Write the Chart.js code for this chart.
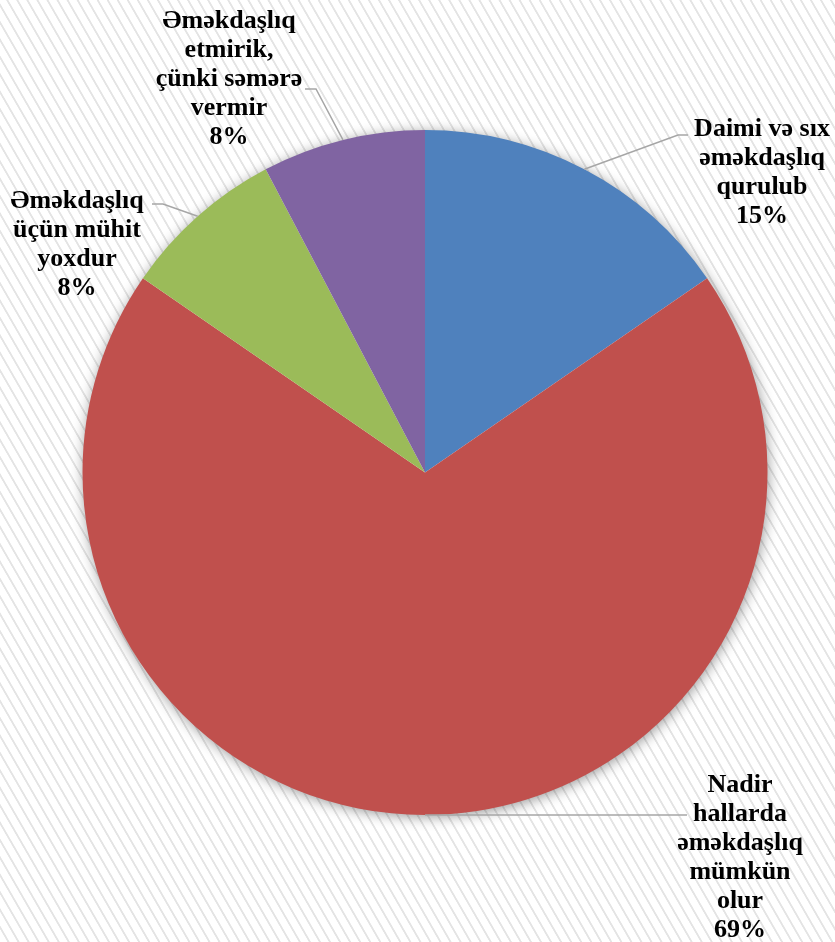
<!DOCTYPE html>
<html>
<head>
<meta charset="utf-8">
<script src="https://cdn.jsdelivr.net/npm/chart.js@4/dist/chart.umd.min.js"></script>
<style>
  html, body { margin: 0; padding: 0; }
  body {
    width: 835px; height: 942px; overflow: hidden;
    background: repeating-linear-gradient(60deg, #ffffff 0px, #ffffff 6.2px, #e4e4e4 6.8px, #e4e4e4 8.0px, #ffffff 8.7px);
    font-family: "Liberation Serif";
  }
  canvas { display: block; }
  .pre { position: absolute; left: -1000px; top: 0; font: bold 26px "Liberation Serif"; }
</style>
</head>
<body>
<span class="pre">Əməkdaşlıq çünki səmərə 8%</span>
<canvas id="c" width="835" height="942"></canvas>
<script>
// ---- data ----
const categories = [
  'Daimi və sıx əməkdaşlıq qurulub',
  'Nadir hallarda əməkdaşlıq mümkün olur',
  'Əməkdaşlıq üçün mühit yoxdur',
  'Əməkdaşlıq etmirik, çünki səmərə vermir'
];
const categoryLines = [
  ['Daimi və sıx', 'əməkdaşlıq', 'qurulub'],
  ['Nadir', 'hallarda', 'əməkdaşlıq', 'mümkün', 'olur'],
  ['Əməkdaşlıq', 'üçün mühit', 'yoxdur'],
  ['Əməkdaşlıq', 'etmirik,', 'çünki səmərə', 'vermir']
];
const values = [15.4, 69.2, 7.7, 7.7];
const percentLabels = ['15%', '69%', '8%', '8%'];
const colors = ['#4F81BD', '#C0504D', '#9BBB59', '#8064A2'];

// ---- label layout (positions / styles) ----
const labelLayout = [
  { x: 762, y: 136, elbow: [678, 135], end: [688, 135] },
  { x: 740, y: 792, elbow: null,       end: [687, 814] },
  { x: 77,  y: 208, elbow: [163, 204], end: [152, 204] },
  { x: 229, y: 28,  elbow: [316, 89],  end: [305, 89] }
];
const LINE_H = 29;
const FONT = 'bold 26px "Liberation Serif"';

const shadowPlugin = {
  id: 'pieShadow',
  beforeDatasetsDraw(chart) {
    const arc = chart.getDatasetMeta(0).data[0];
    if (!arc) return;
    const ctx = chart.ctx;
    ctx.save();
    ctx.shadowColor = 'rgba(0,0,0,0.45)';
    ctx.shadowBlur = 14;
    ctx.shadowOffsetX = 1;
    ctx.shadowOffsetY = 2;
    ctx.beginPath();
    ctx.arc(arc.x, arc.y, arc.outerRadius - 1, 0, Math.PI * 2);
    ctx.fillStyle = '#ffffff';
    ctx.fill();
    ctx.restore();
  }
};

const labelPlugin = {
  id: 'outerLabels',
  afterDatasetsDraw(chart) {
    const ctx = chart.ctx;
    const meta = chart.getDatasetMeta(0);
    meta.data.forEach((arc, i) => {
      const L = labelLayout[i];
      const mid = (arc.startAngle + arc.endAngle) / 2;
      const sx = arc.x + Math.cos(mid) * arc.outerRadius;
      const sy = arc.y + Math.sin(mid) * arc.outerRadius;
      ctx.save();
      ctx.strokeStyle = '#A6A6A6';
      ctx.lineWidth = 1.5;
      ctx.beginPath();
      ctx.moveTo(sx, sy);
      if (L.elbow) ctx.lineTo(L.elbow[0], L.elbow[1]);
      else ctx.lineTo(L.end[0], sy);
      ctx.lineTo(L.end[0], L.elbow ? L.end[1] : sy);
      ctx.stroke();
      ctx.restore();

      ctx.save();
      ctx.font = FONT;
      ctx.fillStyle = '#000000';
      ctx.textAlign = 'center';
      ctx.textBaseline = 'alphabetic';
      const lines = categoryLines[i].concat([percentLabels[i]]);
      lines.forEach((t, k) => ctx.fillText(t, L.x, L.y + k * LINE_H));
      ctx.restore();
    });
  }
};

function build() {
  new Chart(document.getElementById('c'), {
    type: 'pie',
    data: {
      labels: categories,
      datasets: [{
        data: values,
        backgroundColor: colors,
        borderWidth: 0
      }]
    },
    options: {
      responsive: false,
      animation: false,
      devicePixelRatio: 1,
      layout: { padding: { left: 82.5, right: 67.5, top: 130, bottom: 127 } },
      plugins: {
        legend: { display: false },
        tooltip: { enabled: false }
      }
    },
    plugins: [shadowPlugin, labelPlugin]
  });
}
if (document.fonts && document.fonts.load) {
  document.fonts.load(FONT, 'Əməkdaşlıq').then(build, build);
} else {
  build();
}
</script>
</body>
</html>
